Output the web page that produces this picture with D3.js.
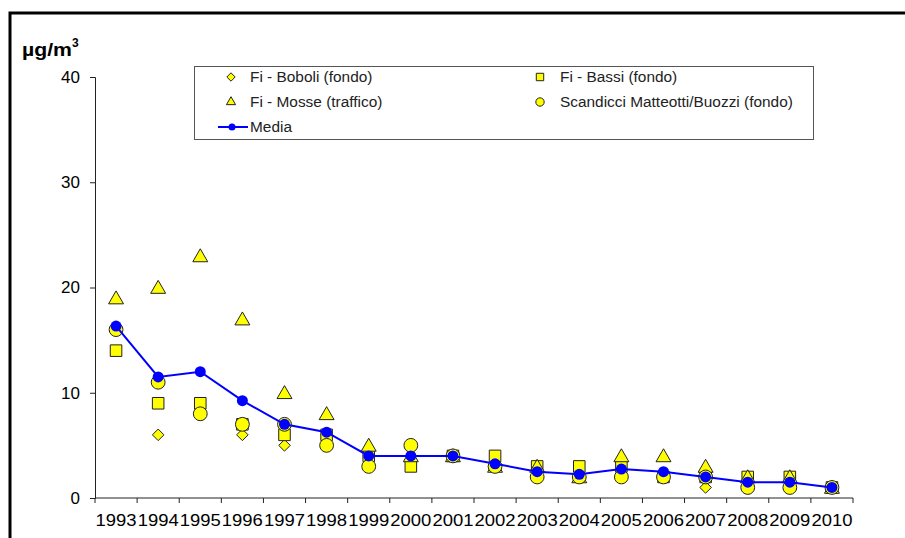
<!DOCTYPE html>
<html>
<head>
<meta charset="utf-8">
<script src="https://cdn.jsdelivr.net/npm/d3@7"></script>
<style>
  body { margin: 0; background: #fff; }
  text { font-family: "Liberation Sans", Arial, sans-serif; }
</style>
</head>
<body>
<script>
// data
var years = ["1993","1994","1995","1996","1997","1998","1999","2000","2001",
             "2002","2003","2004","2005","2006","2007","2008","2009","2010"];
var boboli    = [null, 6, 8, 6, 5, 6, 4, 4, 4, 3, 2, 2, 2, 2, 1, 1, 1, 1];
var bassi     = [14, 9, 9, 7, 6, 6, 4, 3, 4, 4, 3, 3, 3, 2, 2, 2, 2, 1];
var mosse     = [19, 20, 23, 17, 10, 8, 5, 4, 4, 3, 3, 2, 4, 4, 3, 2, 2, 1];
var scandicci = [16, 11, 8, 7, 7, 5, 3, 5, 4, 3, 2, 2, 2, 2, 2, 1, 1, 1];
var yTicks = [0, 10, 20, 30, 40];

// media = mean of the available stations
var media = years.map(function(y, i){
    var v = [boboli[i], bassi[i], mosse[i], scandicci[i]].filter(function(d){ return d !== null; });
    return d3.mean(v);
});

var w = 905, h = 538;
var stretch = 1.1; // the original text is a bit wider than Arial
var svg = d3.select("body").append("svg")
    .attr("width", w)
    .attr("height", h);

// outer frame
svg.append("rect")
    .attr("x", 10).attr("y", 13)
    .attr("width", w + 20).attr("height", h + 20)
    .attr("fill", "none")
    .attr("stroke", "#000")
    .attr("stroke-width", 3);

var x = d3.scaleBand().domain(years).range([95, 853]);
var y = d3.scaleLinear().domain([0, 40]).range([498, 77]);

// y axis
var yAxis = svg.append("g")
    .attr("transform", "translate(95,0)")
    .call(d3.axisLeft(y).tickValues(yTicks).tickSize(5).tickPadding(10));
yAxis.select(".domain").attr("stroke", "#222");
yAxis.selectAll(".tick line").attr("stroke", "#222");
yAxis.selectAll(".tick text")
    .attr("font-size", 17)
    .attr("fill", "#000")
    .style("font-family", "Liberation Sans, Arial, sans-serif");

// x axis (ticks at category boundaries)
var xg = svg.append("g").attr("transform", "translate(0,498)");
xg.append("line")
    .attr("x1", 95).attr("x2", 853)
    .attr("stroke", "#222");
xg.selectAll(".xt")
    .data(years.concat(["end"]))
    .enter().append("line")
    .attr("x1", function(d, i){ return 95 + i * x.bandwidth(); })
    .attr("x2", function(d, i){ return 95 + i * x.bandwidth(); })
    .attr("y1", 0).attr("y2", 5)
    .attr("stroke", "#222");
xg.selectAll(".xl")
    .data(years)
    .enter().append("text")
    .attr("x", function(d){ return x(d) + x.bandwidth() / 2; })
    .attr("y", 28)
    .attr("text-anchor", "middle")
    .attr("font-size", 16)
    .attr("textLength", 41)
    .attr("lengthAdjust", "spacingAndGlyphs")
    .text(function(d){ return d; });

// unit label
svg.append("text")
    .attr("x", 22).attr("y", 56)
    .attr("font-size", 18)
    .attr("font-weight", "bold")
    .attr("textLength", 50)
    .attr("lengthAdjust", "spacingAndGlyphs")
    .text("\u00b5g/m");
svg.append("text")
    .attr("x", 72).attr("y", 47)
    .attr("font-size", 12)
    .attr("font-weight", "bold")
    .text("3");

var cx = function(i){ return x(years[i]) + x.bandwidth() / 2; };
var sym = {
    diamond: d3.symbol().type(d3.symbolDiamond2).size(85),
    square: d3.symbol().type(d3.symbolSquare2).size(170),
    triangle: d3.symbol().type(d3.symbolTriangle2).size(160),
    circle: d3.symbol().type(d3.symbolCircle).size(150)
};
var series = [
    { name: "Fi - Boboli (fondo)", values: boboli, shape: "diamond" },
    { name: "Fi - Bassi (fondo)", values: bassi, shape: "square" },
    { name: "Fi - Mosse (traffico)", values: mosse, shape: "triangle" },
    { name: "Scandicci Matteotti/Buozzi (fondo)", values: scandicci, shape: "circle" }
];

series.forEach(function(s){
    svg.append("g").selectAll("path")
        .data(s.values.map(function(v, i){ return { v: v, i: i }; })
            .filter(function(d){ return d.v !== null; }))
        .enter().append("path")
        .attr("d", sym[s.shape])
        .attr("transform", function(d){
            var dy = s.shape === "triangle" ? 1.5 : 0;
            return "translate(" + cx(d.i) + "," + (y(d.v) + dy) + ")";
        })
        .attr("fill", "#ffff00")
        .attr("stroke", "#222")
        .attr("stroke-width", 1);
});

// media line
var line = d3.line()
    .x(function(d, i){ return cx(i); })
    .y(function(d){ return y(d); });
svg.append("path")
    .datum(media)
    .attr("d", line)
    .attr("fill", "none")
    .attr("stroke", "#0000ff")
    .attr("stroke-width", 2);
svg.append("g").selectAll("circle")
    .data(media)
    .enter().append("circle")
    .attr("cx", function(d, i){ return cx(i); })
    .attr("cy", function(d){ return y(d); })
    .attr("r", 5.5)
    .attr("fill", "#0000ff");

// legend
var lg = svg.append("g");
lg.append("rect")
    .attr("x", 194.5).attr("y", 66.5)
    .attr("width", 619).attr("height", 73)
    .attr("fill", "#fff")
    .attr("stroke", "#555");
var legendPos = [
    { mx: 231, tx: 250, ty: 77 },
    { mx: 540, tx: 560, ty: 77 },
    { mx: 231, tx: 250, ty: 102 },
    { mx: 540, tx: 560, ty: 102 }
];
var legSym = {
    diamond: d3.symbol().type(d3.symbolDiamond2).size(45),
    square: d3.symbol().type(d3.symbolSquare2).size(70),
    triangle: d3.symbol().type(d3.symbolTriangle2).size(60),
    circle: d3.symbol().type(d3.symbolCircle).size(55)
};
function legendText(px, py, label){
    var t = lg.append("text")
        .attr("x", px).attr("y", py)
        .attr("font-size", 14)
        .attr("fill", "#222")
        .text(label);
    var len = t.node().getComputedTextLength();
    t.attr("textLength", len * stretch).attr("lengthAdjust", "spacingAndGlyphs");
}
series.forEach(function(s, k){
    var p = legendPos[k];
    lg.append("path")
        .attr("d", legSym[s.shape])
        .attr("transform", "translate(" + p.mx + "," + p.ty + ")")
        .attr("fill", "#ffff00")
        .attr("stroke", "#222");
    legendText(p.tx, p.ty + 5, s.name);
});
lg.append("line")
    .attr("x1", 218).attr("x2", 248)
    .attr("y1", 127).attr("y2", 127)
    .attr("stroke", "#0000ff").attr("stroke-width", 2);
lg.append("circle")
    .attr("cx", 232).attr("cy", 127).attr("r", 3.5)
    .attr("fill", "#0000ff");
legendText(250, 132, "Media");
</script>
</body>
</html>
